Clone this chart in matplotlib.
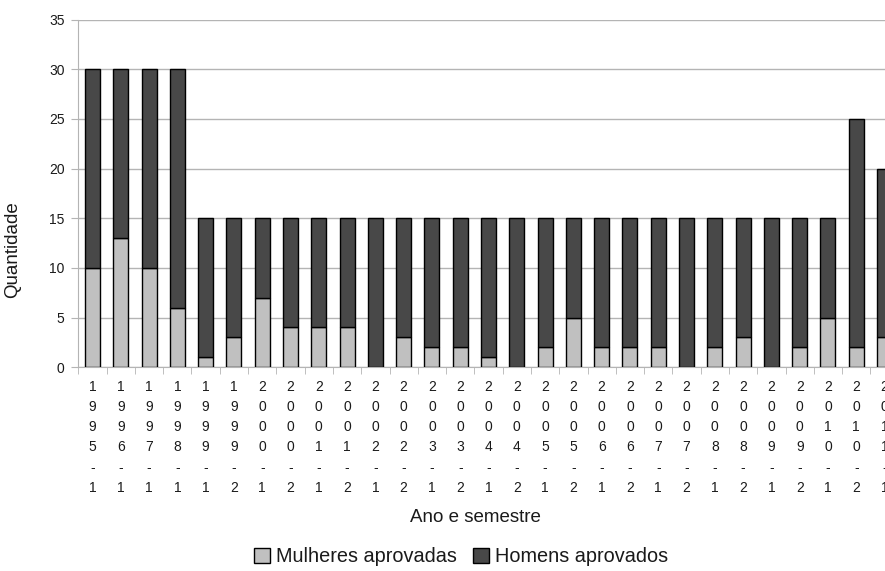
import numpy as np
import matplotlib
matplotlib.use("Agg")
import matplotlib.pyplot as plt

plt.rcParams['font.family'] = ['Liberation Sans', 'DejaVu Sans']

# semestres (ano - semestre)
periodos = ["1995-1", "1996-1", "1997-1", "1998-1", "1999-1", "1999-2",
            "2000-1", "2000-2", "2001-1", "2001-2", "2002-1", "2002-2",
            "2003-1", "2003-2", "2004-1", "2004-2", "2005-1", "2005-2",
            "2006-1", "2006-2", "2007-1", "2007-2", "2008-1", "2008-2",
            "2009-1", "2009-2", "2010-1", "2010-2", "2011-1"]
mulheres = [10, 13, 10, 6, 1, 3, 7, 4, 4, 4, 0, 3, 2, 2, 1, 0, 2, 5,
            2, 2, 2, 0, 2, 3, 0, 2, 5, 2, 3]
totais = [30, 30, 30, 30, 15, 15, 15, 15, 15, 15, 15, 15, 15, 15, 15, 15,
          15, 15, 15, 15, 15, 15, 15, 15, 15, 15, 15, 25, 20]
homens = [t - m for t, m in zip(totais, mulheres)]

COR_MULHER = '#c0c0c0'
COR_HOMEM = '#484848'
COR_GRADE = '#b4b4b4'
COR_TEXTO = '#1a1a1a'

fig = plt.figure(figsize=(8.85, 5.71), dpi=100)
ax = fig.add_axes([0.0885, 0.357, 0.927, 0.6086])

x = np.arange(len(periodos))
ax.bar(x, mulheres, width=0.53, color=COR_MULHER, edgecolor='black',
       linewidth=1, label='Mulheres aprovadas', zorder=3)
ax.bar(x, homens, bottom=mulheres, width=0.53, color=COR_HOMEM,
       edgecolor='black', linewidth=1, label='Homens aprovados', zorder=3)

ax.set_xlim(-0.5, len(periodos) - 0.5)
ax.set_ylim(0, 35)
ax.set_yticks(range(0, 36, 5))
ax.yaxis.grid(True, color=COR_GRADE, linewidth=1)
ax.set_axisbelow(True)

for s in ['top', 'right']:
    ax.spines[s].set_visible(False)
for s in ['left', 'bottom']:
    ax.spines[s].set_color(COR_GRADE)

# rotulos verticais, um caractere por linha
rotulos = ["\n".join(p) for p in periodos]
ax.set_xticks(x)
ax.set_xticklabels(rotulos, fontsize=10, linespacing=1.57, color=COR_TEXTO,
                   va='top')
ax.tick_params(axis='x', which='major', length=0, pad=9)
ax.set_xticks(np.arange(-0.5, len(periodos), 1), minor=True)
ax.tick_params(axis='x', which='minor', length=5, color=COR_GRADE)
ax.tick_params(axis='y', length=5, color=COR_GRADE, labelsize=10,
               labelcolor=COR_TEXTO, pad=5)

ax.set_ylabel('Quantidade', fontsize=13.5, color=COR_TEXTO)
ax.yaxis.set_label_coords(-0.07, 0.337)

fig.text(475 / 885, 1 - 517 / 571, 'Ano e semestre', fontsize=13.5,
         color=COR_TEXTO, ha='center', va='center')

fig.legend(loc='center', bbox_to_anchor=(461 / 885, 1 - 557 / 571),
           ncol=2, frameon=False, fontsize=14.3, handlelength=0.8,
           handleheight=0.8, handletextpad=0.3, columnspacing=0.8,
           labelcolor=COR_TEXTO)

fig.savefig('out.png', dpi=100)
